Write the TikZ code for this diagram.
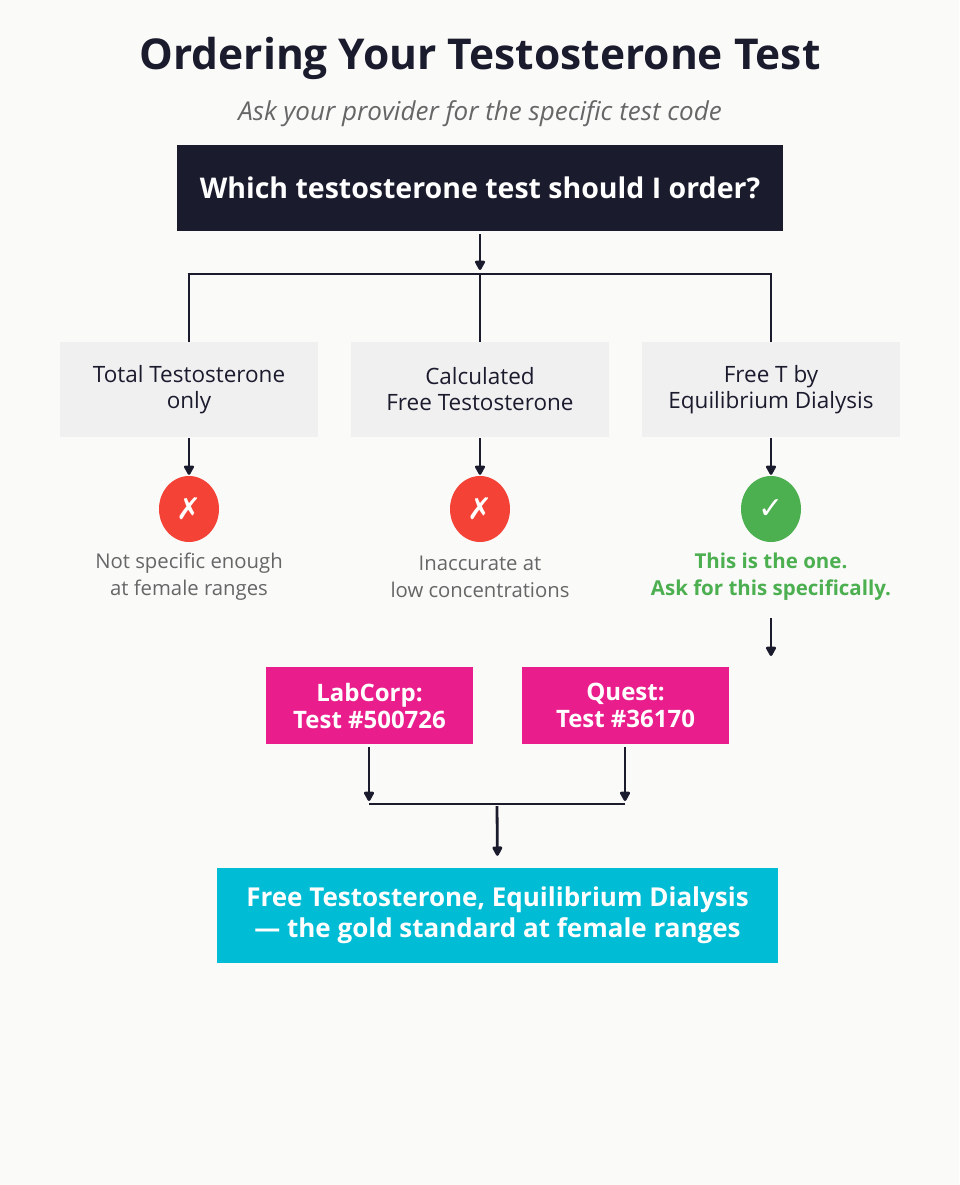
\documentclass[tikz,border=0pt]{standalone}
\usepackage{fontspec}
\setmainfont{Open Sans}[BoldFont={Open Sans Bold},ItalicFont={Open Sans Italic}]
\newfontfamily\sym{DejaVu Sans}
\usetikzlibrary{arrows.meta,shapes.geometric}
\definecolor{bg}{HTML}{FAFAF9}
\definecolor{dark}{HTML}{1B1B2E}
\definecolor{lite}{HTML}{F0F0F1}
\definecolor{gr}{HTML}{666666}
\definecolor{rd}{HTML}{F44336}
\definecolor{gn}{HTML}{4CAF50}
\definecolor{pk}{HTML}{E91E8C}
\definecolor{cy}{HTML}{00BCD4}
\begin{document}
\begin{tikzpicture}[x=1pt,y=-1pt,
 box/.style={minimum width=#1,inner sep=0pt,align=center},
 opt/.style={box=258pt,minimum height=95pt,fill=lite,text=dark,font=\fontsize{22.5}{26}\selectfont},
 lab/.style={box=207pt,minimum height=77pt,fill=pk,text=white,font=\bfseries\fontsize{24}{27}\selectfont},
 circ/.style={ellipse,minimum width=60pt,minimum height=66pt,inner sep=0pt,text=white,font=\sym\fontsize{30}{30}\selectfont},
 note/.style={align=center,font=\fontsize{20.3}{27}\selectfont},
 ar/.style={draw=dark,line width=2.8pt,-{Stealth[length=11pt,width=11pt,inset=0pt,round]}},
 ln/.style={draw=dark,line width=2.8pt}]
\fill[bg] (0,0) rectangle (959,1185);
\useasboundingbox (0,0) rectangle (959,1185);
\node[text=dark,font=\bfseries\fontsize{42.5}{46}\selectfont] (title) at (480,58) {Ordering Your Testosterone Test};
\node[text=gr,font=\itshape\fontsize{26}{30}\selectfont] (sub) at (480,114) {Ask your provider for the specific test code};
\node[box=606pt,minimum height=86pt,fill=dark,text=white,font=\bfseries\fontsize{28.5}{32}\selectfont] (q) at (480,188) {Which testosterone test should I order?};
\coordinate (j) at (480,274);
\coordinate (jl) at (189,274);
\coordinate (jr) at (771,274);
\coordinate (j2) at (480,270);
\node[opt] (a) at (189,389.5) {Total Testosterone\\only};
\node[opt] (b) at (480,389.5) {Calculated\\Free Testosterone};
\node[opt] (c) at (771,389.5) {Free T by\\Equilibrium Dialysis};
\draw[ar,shorten <=3pt] (q.south) -- (j2);
\draw[ln] ([xshift=-1.4pt]jl) -- ([xshift=1.4pt]jr);
\draw[ln] (jl) -- (a.north);
\draw[ln] (j) -- (b.north);
\draw[ln] (jr) -- (c.north);
\node[circ,fill=rd] (ca) at (189,509) {✗};
\node[circ,fill=rd] (cb) at (480,509) {✗};
\node[circ,fill=gn] (cc) at (771,509) {✓};
\draw[ar,shorten <=1pt,shorten >=1pt] (a.south) -- (ca.north);
\draw[ar,shorten <=1pt,shorten >=1pt] (b.south) -- (cb.north);
\draw[ar,shorten <=1pt,shorten >=1pt] (c.south) -- (cc.north);
\node[note,text=gr] (na) at (189,577) {Not specific enough\\at female ranges};
\node[note,text=gr] (nb) at (480,577) {Inaccurate at\\low concentrations};
\node[note,text=gn,font=\bfseries\fontsize{20.5}{27}\selectfont] (nc) at (771,577) {This is the one.\\Ask for this specifically.};
\coordinate (cs) at (771,618);
\coordinate (ce) at (771,656);
\draw[ar] (cs) -- (ce);
\node[lab] (lc) at (369.5,705.5) {LabCorp:\\Test \#500726};
\node[lab] (qu) at (625.5,705.5) {Quest:\\Test \#36170};
\coordinate (m1) at (369,804);
\coordinate (m2) at (625,804);
\coordinate (m) at (497,806);
\draw[ar,shorten <=3pt,shorten >=3pt] (lc.south -| m1) -- (m1);
\draw[ar,shorten <=3pt,shorten >=3pt] (qu.south -| m2) -- (m2);
\draw[ln] (m1) -- (m2);
\node[box=561pt,minimum height=95pt,fill=cy,text=white,font=\bfseries\fontsize{26}{31}\selectfont] (f) at (497.5,915.5) {Free Testosterone, Equilibrium Dialysis\\— the gold standard at female ranges};
\draw[ar,shorten >=12pt] (m) -- (f.north);
\end{tikzpicture}
\end{document}
